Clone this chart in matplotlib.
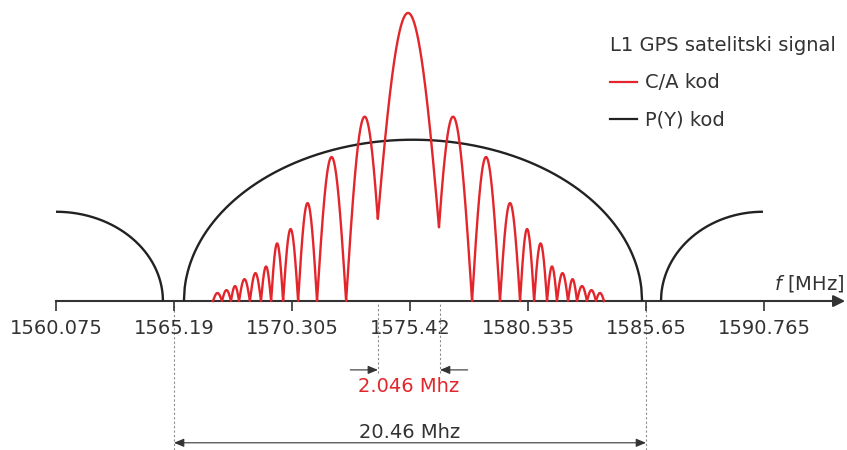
import numpy as np
import matplotlib.pyplot as plt
from matplotlib.lines import Line2D

# frekvencijska os [MHz]
ticks = [1560.075, 1565.19, 1570.305, 1575.42, 1580.535, 1585.65, 1590.765]
tick_labels = ["1560.075", "1565.19", "1570.305", "1575.42", "1580.535", "1585.65", "1590.765"]
axis_end = 1594.28

# C/A kod - lukovi (pocetak, kraj, visina)
ca_start = [1566.88, 1567.27, 1567.66, 1568.01, 1568.48, 1568.96, 1569.40, 1569.92, 1570.57, 1571.39, 1572.65,
            1573.73,
            1576.46, 1578.11, 1579.32, 1580.19, 1580.80, 1581.36, 1581.79, 1582.27, 1582.66, 1583.09, 1583.48]
ca_end = [1567.27, 1567.66, 1568.01, 1568.48, 1568.96, 1569.40, 1569.92, 1570.57, 1571.39, 1572.65, 1574.26,
          1576.94,
          1578.11, 1579.32, 1580.19, 1580.80, 1581.36, 1581.79, 1582.27, 1582.66, 1583.09, 1583.48, 1583.83]
ca_peak = [0.028, 0.038, 0.052, 0.076, 0.097, 0.12, 0.20, 0.25, 0.34, 0.50, 0.64,
           1.0,
           0.64, 0.50, 0.34, 0.25, 0.20, 0.12, 0.097, 0.076, 0.052, 0.038, 0.028]

# P(Y) kod - lukovi (pocetak, kraj, sredina, visina)
py_start = [1560.075, 1565.62, 1586.30]
py_end = [1564.71, 1585.48, 1590.72]
py_center = [1560.075, 1575.55, 1590.72]
py_peak = [0.31, 0.56, 0.31]

# sirine pojasa
ca_band = [1574.03, 1576.72]
py_band = [1565.19, 1585.65]

RED = "#e2262b"
BLACK = "#222222"
TEXT = "#333333"


def ca_curve():
    x = np.linspace(ca_start[0], ca_end[-1], 8000)
    x = np.union1d(x, np.array(ca_start + ca_end))
    y = np.zeros_like(x)
    for lo, hi, h in zip(ca_start, ca_end, ca_peak):
        inside = (x >= lo) & (x <= hi)
        y[inside] = np.maximum(y[inside], h * np.sin(np.pi * (x[inside] - lo) / (hi - lo)))
    return x, y


def py_lobe(lo, hi, c, h):
    a = max(c - lo, hi - c)
    x = np.linspace(lo, hi, 600)
    y = h * np.sqrt(np.clip(1 - ((x - c) / a) ** 2, 0, None))
    return x, y


def main():
    fig = plt.figure(figsize=(8.47, 4.5), dpi=100)
    ax = fig.add_axes([0, 0, 1, 1])
    ax.set_xlim(1557.648, 1594.362)
    ax.set_ylim(-0.517, 1.045)

    for lo, hi, c, h in zip(py_start, py_end, py_center, py_peak):
        x, y = py_lobe(lo, hi, c, h)
        ax.plot(x, y, color=BLACK, lw=1.7, zorder=3, solid_capstyle="butt")

    x, y = ca_curve()
    ax.plot(x, y, color=RED, lw=1.7, zorder=4)

    # os
    for s in ["top", "left", "right"]:
        ax.spines[s].set_visible(False)
    ax.spines["bottom"].set_position(("data", 0))
    ax.spines["bottom"].set_bounds(ticks[0], axis_end - 0.3)
    ax.spines["bottom"].set_color(TEXT)
    ax.spines["bottom"].set_linewidth(1.5)
    ax.annotate("", xy=(axis_end, 0), xytext=(axis_end - 0.5, 0),
                arrowprops=dict(arrowstyle="-|>,head_length=0.7,head_width=0.35",
                                color=TEXT, lw=1.5, shrinkA=0, shrinkB=0), zorder=5)
    ax.set_yticks([])
    ax.set_xticks(ticks, tick_labels)
    ax.tick_params(axis="x", direction="out", length=7.2, width=1.2, colors=TEXT,
                   labelsize=14, pad=6)
    ax.text(axis_end - 0.05, 0.06, "$f$ [MHz]", ha="right", va="center", fontsize=14, color=TEXT)

    # kotiranje
    tr = ax.get_xaxis_transform()
    ax.vlines(ca_band, 0.171, 0.327, transform=tr, colors="#8c8c8c", lw=0.8, linestyles=(0, (2, 2)))
    ax.vlines(py_band, 0.0, 0.327, transform=tr, colors="#8c8c8c", lw=0.8, linestyles=(0, (2, 2)), zorder=0)

    arrow = dict(arrowstyle="-|>,head_length=0.6,head_width=0.25", color=TEXT, lw=0.8,
                 shrinkA=0, shrinkB=0)
    ax.annotate("", xy=(ca_band[0], 0.178), xytext=(ca_band[0] - 1.2, 0.178),
                xycoords=tr, textcoords=tr, arrowprops=arrow)
    ax.annotate("", xy=(ca_band[1], 0.178), xytext=(ca_band[1] + 1.2, 0.178),
                xycoords=tr, textcoords=tr, arrowprops=arrow)
    ax.text(np.mean(ca_band), 0.142, "2.046 Mhz", transform=tr, ha="center", va="center",
            fontsize=14, color=RED)

    ax.annotate("", xy=(py_band[0], 0.016), xytext=(py_band[1], 0.016),
                xycoords=tr, textcoords=tr,
                arrowprops=dict(arrowstyle="<|-|>,head_length=0.6,head_width=0.25", color=TEXT,
                                lw=0.8, shrinkA=0, shrinkB=0))
    ax.text(np.mean(py_band), 0.04, "20.46 Mhz", transform=tr, ha="center", va="center",
            fontsize=14, color=TEXT)

    handles = [Line2D([], [], color=RED, lw=1.6), Line2D([], [], color=BLACK, lw=1.6)]
    leg = ax.legend(handles, ["C/A kod", "P(Y) kod"], title="L1 GPS satelitski signal",
                    loc="upper left", bbox_to_anchor=(610 / 847, 1 - 36 / 450),
                    bbox_transform=fig.transFigure, frameon=False, fontsize=14, title_fontsize=14,
                    handlelength=1.4, handletextpad=0.4, labelspacing=0.95, borderpad=0,
                    borderaxespad=0, alignment="left", labelcolor=TEXT)
    leg.get_title().set_color(TEXT)

    fig.savefig("out.png", dpi=100)


if __name__ == "__main__":
    main()
